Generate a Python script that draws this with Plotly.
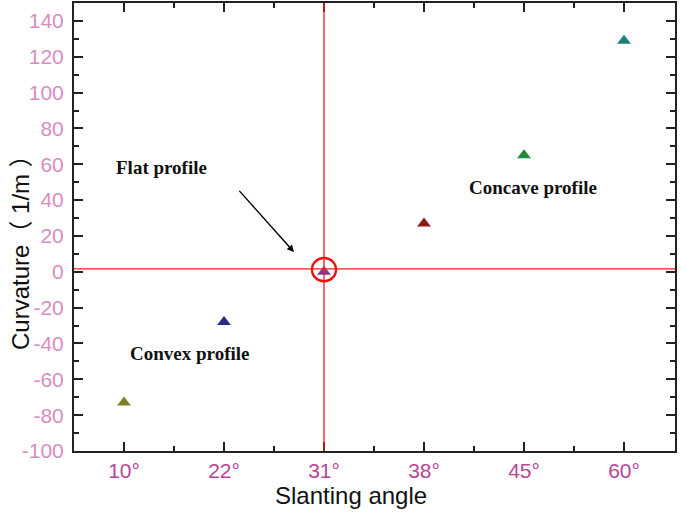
import plotly.graph_objects as go

categories = ["10°", "22°", "31°", "38°", "45°", "60°"]
curvature = [-73, -28, 0, 27, 65, 129]
colors = ["#7f7f2a", "#2a2a8a", "#7a3aa0", "#8a1a1a", "#1f8a3a", "#17807f"]
positions = [1, 2, 3, 4, 5, 6]
y_ticks = [-100, -80, -60, -40, -20, 0, 20, 40, 60, 80, 100, 120, 140]
y_ticktext = [str(v) for v in y_ticks]

# plot area in pixels
L, R, T, B = 74, 675, 3, 451
W, H = 686, 512
pw, ph = R - L, B - T

def px_x(p):
    return (p - L) / pw

def px_y(p):
    return (B - p) / ph

fig = go.Figure()
fig.add_trace(go.Scatter(
    x=positions, y=curvature, mode="markers",
    marker=dict(symbol="triangle-up", size=12, color=colors),
    showlegend=False, hoverinfo="skip"))

# reference lines
fig.add_shape(type="line", xref="x", yref="paper", x0=3, x1=3, y0=0, y1=1,
              line=dict(color="#ff1a1a", width=1.3), layer="above")
fig.add_shape(type="line", xref="paper", yref="y", x0=0, x1=1, y0=1.6, y1=1.6,
              line=dict(color="#ff1a1a", width=1.3), layer="above")
# circle around flat point
fig.add_shape(type="circle", xref="x", yref="y", x0=2.88, x1=3.12, y0=-5.3, y1=7.7,
              line=dict(color="#ee1111", width=2.4))

fig.add_annotation(x=2.70, y=11, ax=2.14, ay=46, xref="x", yref="y", axref="x", ayref="y",
                   showarrow=True, arrowhead=2, arrowsize=1, arrowwidth=1.4,
                   arrowcolor="black", text="")
fig.add_annotation(x=1.37, y=58, text="<b>Flat profile</b>", showarrow=False,
                   font=dict(family="Liberation Serif", size=19, color="#111"))
fig.add_annotation(x=5.09, y=47, text="<b>Concave profile</b>", showarrow=False,
                   font=dict(family="Liberation Serif", size=19, color="#111"))
fig.add_annotation(x=1.65, y=-45.5, text="<b>Convex profile</b>", showarrow=False,
                   font=dict(family="Liberation Serif", size=19, color="#111"))

# axis titles
fig.add_annotation(xref="paper", yref="paper", x=px_x(351), y=px_y(495),
                   text="Slanting angle", showarrow=False, xanchor="center", yanchor="middle",
                   font=dict(family="Liberation Sans", size=24, color="#111"))
fig.add_annotation(xref="paper", yref="paper", x=px_x(20), y=px_y(247),
                   text="Curvature（ 1/m ）", showarrow=False, textangle=-90,
                   xanchor="center", yanchor="middle",
                   font=dict(family="Liberation Sans, Noto Sans CJK SC", size=24, color="#111"))

fig.update_xaxes(
    range=[0.5, 6.51], tickmode="array", tickvals=positions, ticktext=categories,
    ticks="inside", ticklen=9, tickwidth=2, tickcolor="#222",
    minor=dict(tickmode="array", tickvals=[1.5, 2.5, 3.5, 4.5, 5.5], ticks="inside",
               ticklen=5, tickwidth=2, tickcolor="#222"),
    showline=True, linecolor="#222", linewidth=2, mirror="allticks",
    showgrid=False, zeroline=False, automargin=False,
    tickfont=dict(family="Liberation Sans", size=21, color="#b8449a"))
fig.update_yaxes(
    range=[-100, 150], tickmode="array", tickvals=y_ticks, ticktext=y_ticktext,
    ticks="inside", ticklen=9, tickwidth=2, tickcolor="#222",
    minor=dict(tickmode="linear", tick0=-100, dtick=10, ticks="inside",
               ticklen=5, tickwidth=2, tickcolor="#222"),
    showline=True, linecolor="#222", linewidth=2, mirror="allticks",
    showgrid=False, zeroline=False, automargin=False, ticklabelstandoff=4,
    tickfont=dict(family="Liberation Sans", size=21, color="#d98cc4"))

fig.update_layout(
    width=W, height=H, paper_bgcolor="white", plot_bgcolor="white",
    margin=dict(l=L, r=W - R, t=T, b=H - B))

fig.write_html("out.html", config={"displayModeBar": False},
               post_script="document.body.style.margin='0px';document.body.style.overflow='hidden';")
